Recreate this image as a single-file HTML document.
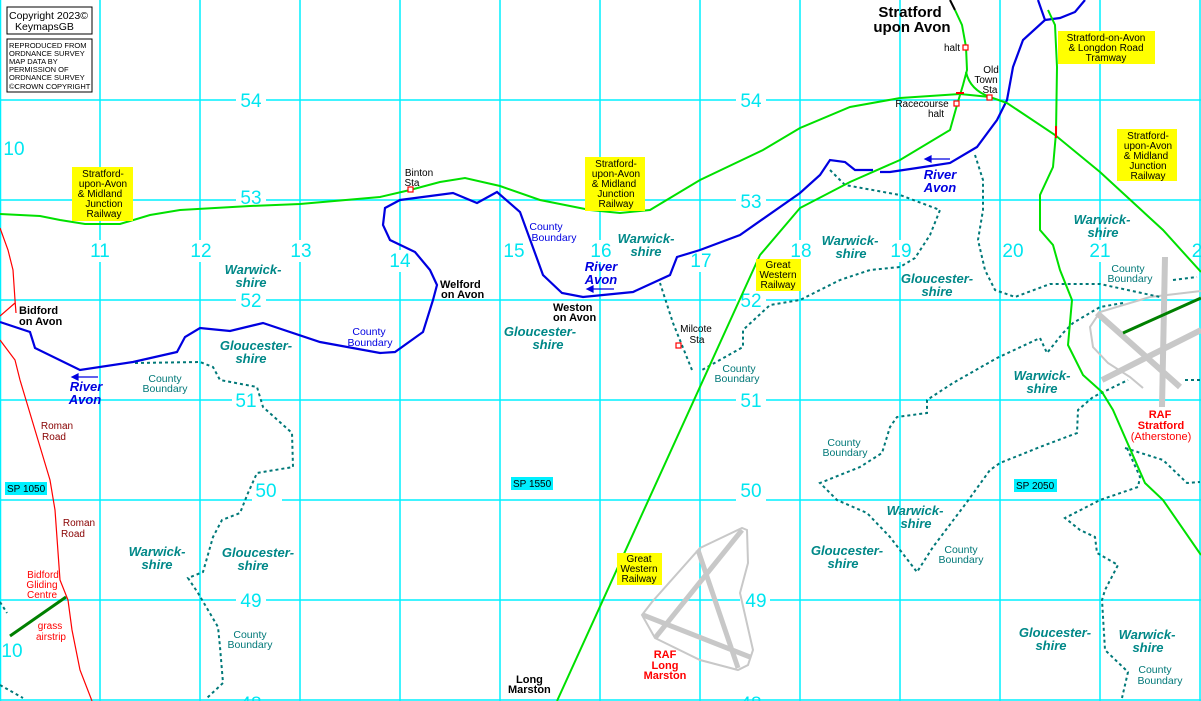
<!DOCTYPE html>
<html><head><meta charset="utf-8"><style>
html,body{margin:0;padding:0;background:#fff}
svg{display:block}
text{font-family:"Liberation Sans",sans-serif}
.g{fill:#00e6f0;font-size:19px}
.ww{fill:#008888;font-size:13px;font-weight:bold;font-style:italic}
.cb{fill:#007878;font-size:10.5px;font-family:"Liberation Serif",serif}
.cbb{fill:#0000e0;font-size:10.5px;font-family:"Liberation Serif",serif}
.rv{fill:#0000e0;font-size:13px;font-weight:bold;font-style:italic}
.tw{fill:#000;font-size:11px;font-weight:bold}
.st{fill:#000;font-size:10px}
.yl{fill:#000;font-size:10px}
.bnd{fill:none;stroke:#007878;stroke-width:2;stroke-dasharray:3 3}
</style></head><body>
<svg width="1201" height="701" viewBox="0 0 1201 701" xmlns="http://www.w3.org/2000/svg">
<rect width="1201" height="701" fill="#fff"/>
<g stroke="#00f0ff" stroke-width="1.5">
<line x1="0.5" y1="0" x2="0.5" y2="701"/><line x1="100" y1="0" x2="100" y2="701"/><line x1="200" y1="0" x2="200" y2="701"/><line x1="300" y1="0" x2="300" y2="701"/><line x1="400" y1="0" x2="400" y2="701"/><line x1="500" y1="0" x2="500" y2="701"/><line x1="600" y1="0" x2="600" y2="701"/><line x1="700" y1="0" x2="700" y2="701"/><line x1="800" y1="0" x2="800" y2="701"/><line x1="900" y1="0" x2="900" y2="701"/><line x1="1000" y1="0" x2="1000" y2="701"/><line x1="1100" y1="0" x2="1100" y2="701"/><line x1="1200" y1="0" x2="1200" y2="701"/>
<line x1="0" y1="100" x2="1201" y2="100"/><line x1="0" y1="200" x2="1201" y2="200"/><line x1="0" y1="300" x2="1201" y2="300"/><line x1="0" y1="400" x2="1201" y2="400"/><line x1="0" y1="500" x2="1201" y2="500"/><line x1="0" y1="600" x2="1201" y2="600"/><line x1="0" y1="700" x2="1201" y2="700"/>
</g>
<g fill="#fff">
<rect x="236" y="89" width="30" height="22"/><rect x="736" y="89" width="30" height="22"/><rect x="236" y="187" width="30" height="22"/><rect x="736" y="190" width="30" height="22"/>
<rect x="236" y="289" width="30" height="22"/><rect x="736" y="289" width="30" height="22"/><rect x="232" y="389" width="30" height="22"/><rect x="736" y="389" width="30" height="22"/>
<rect x="252" y="479" width="30" height="22"/><rect x="736" y="479" width="30" height="22"/><rect x="236" y="589" width="30" height="22"/><rect x="740" y="589" width="30" height="22"/>
<rect x="90" y="240" width="20" height="22"/><rect x="190" y="240" width="20" height="22"/><rect x="290" y="240" width="20" height="22"/><rect x="390" y="250" width="20" height="22"/><rect x="590" y="240" width="20" height="22"/><rect x="690" y="250" width="20" height="22"/><rect x="790" y="240" width="20" height="22"/><rect x="890" y="240" width="20" height="22"/><rect x="1090" y="240" width="20" height="22"/>
</g>
<g class="g" text-anchor="middle">
<text x="251" y="107">54</text><text x="751" y="107">54</text><text x="14" y="155">10</text>
<text x="251" y="204">53</text><text x="751" y="208">53</text>
<text x="100" y="257">11</text><text x="201" y="257">12</text><text x="301" y="257">13</text><text x="400" y="267">14</text><text x="514" y="257">15</text><text x="601" y="257">16</text><text x="701" y="267">17</text><text x="801" y="257">18</text><text x="901" y="257">19</text><text x="1013" y="257">20</text><text x="1100" y="257">21</text><text x="1197" y="257">2</text>
<text x="251" y="307">52</text><text x="751" y="307">52</text><text x="246" y="407">51</text><text x="751" y="407">51</text>
<text x="266" y="497">50</text><text x="751" y="497">50</text><text x="251" y="607">49</text><text x="756" y="607">49</text><text x="12" y="657">10</text>
<text x="251" y="710">48</text><text x="751" y="710">48</text>
</g>
<rect x="5" y="482" width="42" height="13" fill="#00f0ff"/><text x="7" y="492" font-size="10">SP 1050</text>
<rect x="511" y="477" width="42" height="13" fill="#00f0ff"/><text x="513" y="487" font-size="10">SP 1550</text>
<rect x="1014" y="479" width="43" height="13" fill="#00f0ff"/><text x="1016" y="489" font-size="10">SP 2050</text>

<g fill="none" stroke="#c8c8c8">
<path d="M1201,291 L1150,297 L1100,312 L1090,327 L1093,347 L1108,363 L1130,377 L1143,388" stroke-width="2"/>
<path d="M1165,257 L1162,407 M1097,313 L1180,387 M1102,380 L1201,330" stroke-width="6"/>
<path d="M700,548 L742,528 L747,530 L748,563 L740,593 L753,650 L748,665 L738,670 L700,660 L655,638 L642,615 L652,602 Z" stroke-width="2"/>
<path d="M698,550 L738,668 M742,530 L655,638 M643,615 L750,657" stroke-width="5"/>
</g>
<path d="M1123,333 L1201,298" stroke="#008000" stroke-width="3"/>
<path d="M10,636 L66,597" stroke="#008000" stroke-width="3"/>

<g fill="none" stroke="#ff0000" stroke-width="1.2">
<path d="M0,228 L8,250 L13,270 L15,300 L16,313 M0,316 L15,303"/>
<path d="M0,340 L15,360 L20,380 L35,430 L50,480 L55,510 L60,580 L68,600 L72,630 L80,670 L92,701"/>
</g>

<g class="bnd">
<path d="M135,363 L200,362 L213,367 L220,380 L257,387 L263,407 L292,433 L293,467 L257,473 L248,493 L240,513 L222,520 L213,537 L203,572 L188,578 L198,593 L218,627 L220,647 L223,683 L207,698"/>
<path d="M0,685 L23,698"/><path d="M0,602 L7,613"/>
<path d="M830,170 L845,185 L900,195 L940,210 L930,235 L915,258 L900,267 L870,270 L840,280 L800,300 L770,305 L743,330 L743,347 L702,370 M692,370 L673,323 L660,283"/>
<path d="M975,155 L983,180 L983,210 L978,240 L985,270 L995,290 L1015,297 L1050,284 L1100,284 L1160,297 M1173,280 L1197,277"/>
<path d="M1123,303 L1100,307 L1073,323 L1063,333 L1047,353 L1040,338 L997,358 L953,383 L927,400 L927,413 L897,417 L890,427 L882,453 L860,467 L820,483 L837,500 L867,513 L890,537 L917,572 L933,547 L967,502 L990,470 L1000,463 L1040,447 L1077,433 L1078,410 L1093,397 L1128,380"/>
<path d="M1125,448 L1163,460 L1187,483 L1200,482 M1127,448 L1140,477 L1138,487 L1100,500 L1065,518 L1080,530 L1095,537 L1097,553 L1118,565 L1105,590 L1102,600 L1105,650 L1128,672 L1122,698"/>
<path d="M1185,380 L1201,380"/>
</g>

<g fill="none" stroke="#0000e0" stroke-width="2.2">
<path d="M0,322 L30,332 L35,348 L80,370 L133,362 L177,352 L185,337 L200,328 L230,331 L263,323 L320,342 L380,353 L395,352 L423,332 L433,300 L437,285 L430,270 L415,252 L390,240 L383,225 L385,208 L400,200 L453,193 L477,203 L497,192 L520,212 L543,275 L562,293 L583,297 L633,292 L670,275 L677,257 L700,250 L740,235 L800,193 L820,175 L830,160 L845,162 L855,170 L873,170 M880,172 L890,172 L917,168 L950,163 L977,147 L997,120 L1007,100 L1013,67 L1023,40 L1045,20 L1038,0 M1045,20 L1060,18 L1075,12 L1085,0"/>
</g>
<g stroke="#0000e0" stroke-width="1.2" fill="#0000e0">
<path d="M75,377 L98,377"/><path d="M72,377 L78,374 L78,380Z"/>
<path d="M590,289 L614,289"/><path d="M587,289 L593,286 L593,292Z"/>
<path d="M928,159 L950,159"/><path d="M925,159 L931,156 L931,162Z"/>
</g>

<g fill="none" stroke="#00e000" stroke-width="2">
<path d="M0,214 L40,216 L60,220 L85,224 L120,224 L150,215 L180,210 L250,206 L300,204 L380,197 L410,190 L440,182 L465,178 L500,186 L540,200 L590,210 L620,213 L650,210 L700,180 L763,150 L800,128 L850,107 L900,98 L960,94 L990,97 L1007,103 L1055,135 L1100,172 L1163,230 L1201,272"/>
<path d="M557,701 L760,255 L800,208 L850,182 L900,160 L950,130 L957,105 L963,85 L967,70 L966,47 L962,25 L955,10"/>
<path d="M966,72 Q970,90 990,97"/>
<path d="M1048,10 L1055,25 L1057,67 L1056,133 L1053,167 L1040,195 L1040,230 L1053,245 L1060,270 L1072,300 L1068,345 L1083,375 L1102,392 L1113,410 L1145,483 L1163,500 L1201,555"/>
</g>
<path d="M950,0 L955,10" stroke="#000" stroke-width="2"/>
<g stroke="#ff0000" stroke-width="2"><path d="M956,93 L964,93"/><path d="M1056,126 L1056,138"/></g>
<g fill="#fff" stroke="#ff0000" stroke-width="1.2">
<rect x="408" y="187" width="5" height="5"/><rect x="963" y="45" width="5" height="5"/><rect x="987" y="95" width="5" height="5"/><rect x="954" y="101" width="5" height="5"/><rect x="676" y="343" width="5" height="5"/>
</g>

<rect x="7" y="7" width="85" height="27" fill="#fff" stroke="#000"/>
<text x="9" y="19" font-size="10.5">Copyright 2023©</text><text x="15" y="30" font-size="10.5">KeymapsGB</text>
<rect x="7" y="39" width="85" height="53" fill="#fff" stroke="#000"/>
<g font-size="7.5"><text x="9" y="48">REPRODUCED FROM</text><text x="9" y="56">ORDNANCE SURVEY</text><text x="9" y="64">MAP DATA BY</text><text x="9" y="72">PERMISSION OF</text><text x="9" y="80">ORDNANCE SURVEY</text><text x="9" y="89">©CROWN COPYRIGHT</text></g>

<g fill="#ffff00">
<rect x="72" y="167" width="61" height="54"/><rect x="585" y="157" width="60" height="54"/><rect x="1117" y="129" width="60" height="52"/><rect x="1058" y="31" width="97" height="33"/><rect x="756" y="259" width="45" height="32"/><rect x="617" y="553" width="45" height="32"/>
</g>
<g class="yl" text-anchor="middle">
<text x="103" y="177">Stratford-</text><text x="103" y="187">upon-Avon</text><text x="100" y="197">&amp; Midland</text><text x="104" y="207">Junction</text><text x="104" y="217">Railway</text>
<text x="616" y="167">Stratford-</text><text x="616" y="177">upon-Avon</text><text x="614" y="187">&amp; Midland</text><text x="616" y="197">Junction</text><text x="616" y="207">Railway</text>
<text x="1148" y="139">Stratford-</text><text x="1148" y="149">upon-Avon</text><text x="1146" y="159">&amp; Midland</text><text x="1148" y="169">Junction</text><text x="1148" y="179">Railway</text>
<text x="1106" y="41">Stratford-on-Avon</text><text x="1106" y="51">&amp; Longdon Road</text><text x="1106" y="61">Tramway</text>
<text x="778" y="268">Great</text><text x="778" y="278">Western</text><text x="778" y="288">Railway</text>
<text x="639" y="562">Great</text><text x="639" y="572">Western</text><text x="639" y="582">Railway</text>
</g>

<g class="ww" text-anchor="middle">
<text x="253" y="274">Warwick-</text><text x="251" y="287">shire</text>
<text x="646" y="243">Warwick-</text><text x="646" y="256">shire</text>
<text x="850" y="245">Warwick-</text><text x="851" y="258">shire</text>
<text x="1102" y="224">Warwick-</text><text x="1103" y="237">shire</text>
<text x="937" y="283">Gloucester-</text><text x="937" y="296">shire</text>
<text x="1042" y="380">Warwick-</text><text x="1042" y="393">shire</text>
<text x="915" y="515">Warwick-</text><text x="916" y="528">shire</text>
<text x="1147" y="639">Warwick-</text><text x="1148" y="652">shire</text>
<text x="157" y="556">Warwick-</text><text x="157" y="569">shire</text>
<text x="256" y="350">Gloucester-</text><text x="251" y="363">shire</text>
<text x="540" y="336">Gloucester-</text><text x="548" y="349">shire</text>
<text x="258" y="557">Gloucester-</text><text x="253" y="570">shire</text>
<text x="847" y="555">Gloucester-</text><text x="843" y="568">shire</text>
<text x="1055" y="637">Gloucester-</text><text x="1051" y="650">shire</text>
</g>
<g class="cb" text-anchor="middle">
<text x="165" y="382">County</text><text x="165" y="392">Boundary</text>
<text x="739" y="372">County</text><text x="737" y="382">Boundary</text>
<text x="844" y="446">County</text><text x="845" y="456">Boundary</text>
<text x="961" y="553">County</text><text x="961" y="563">Boundary</text>
<text x="250" y="638">County</text><text x="250" y="648">Boundary</text>
<text x="1128" y="272">County</text><text x="1130" y="282">Boundary</text>
<text x="1155" y="673">County</text><text x="1160" y="684">Boundary</text>
</g>
<g class="cbb" text-anchor="middle">
<text x="546" y="230">County</text><text x="554" y="241">Boundary</text>
<text x="369" y="335">County</text><text x="370" y="346">Boundary</text>
</g>
<g class="rv" text-anchor="middle">
<text x="86" y="391">River</text><text x="85" y="404">Avon</text>
<text x="601" y="271">River</text><text x="601" y="284">Avon</text>
<text x="940" y="179">River</text><text x="940" y="192">Avon</text>
</g>
<g class="tw">
<text x="19" y="314">Bidford</text><text x="19" y="325">on Avon</text>
<text x="440" y="288">Welford</text><text x="441" y="298">on Avon</text>
<text x="553" y="311">Weston</text><text x="553" y="321">on Avon</text>
<text x="516" y="683">Long</text><text x="508" y="693">Marston</text>
</g>
<text x="910" y="17" font-size="15" font-weight="bold" text-anchor="middle">Stratford</text>
<text x="912" y="32" font-size="15" font-weight="bold" text-anchor="middle">upon Avon</text>
<g class="st" text-anchor="middle">
<text x="419" y="176">Binton</text><text x="412" y="186">Sta</text>
<text x="952" y="51">halt</text>
<text x="991" y="73">Old</text><text x="986" y="83">Town</text><text x="990" y="93">Sta</text>
<text x="922" y="107">Racecourse</text><text x="936" y="117">halt</text>
<text x="696" y="332">Milcote</text><text x="697" y="343">Sta</text>
</g>
<g fill="#ff0000" text-anchor="middle">
<text x="665" y="658" font-size="11" font-weight="bold">RAF</text><text x="665" y="669" font-size="11" font-weight="bold">Long</text><text x="665" y="679" font-size="11" font-weight="bold">Marston</text>
<text x="1160" y="418" font-size="11" font-weight="bold">RAF</text><text x="1161" y="429" font-size="11" font-weight="bold">Stratford</text><text x="1161" y="440" font-size="11">(Atherstone)</text>
<text x="43" y="578" font-size="10">Bidford</text><text x="42" y="588" font-size="10">Gliding</text><text x="42" y="598" font-size="10">Centre</text>
<text x="50" y="629" font-size="10">grass</text><text x="51" y="640" font-size="10">airstrip</text>
</g>
<g fill="#880000" font-size="10" font-family="Liberation Serif,serif" text-anchor="middle">
<text x="57" y="429">Roman</text><text x="54" y="440">Road</text>
<text x="79" y="526">Roman</text><text x="73" y="537">Road</text>
</g>
</svg>
</body></html>
